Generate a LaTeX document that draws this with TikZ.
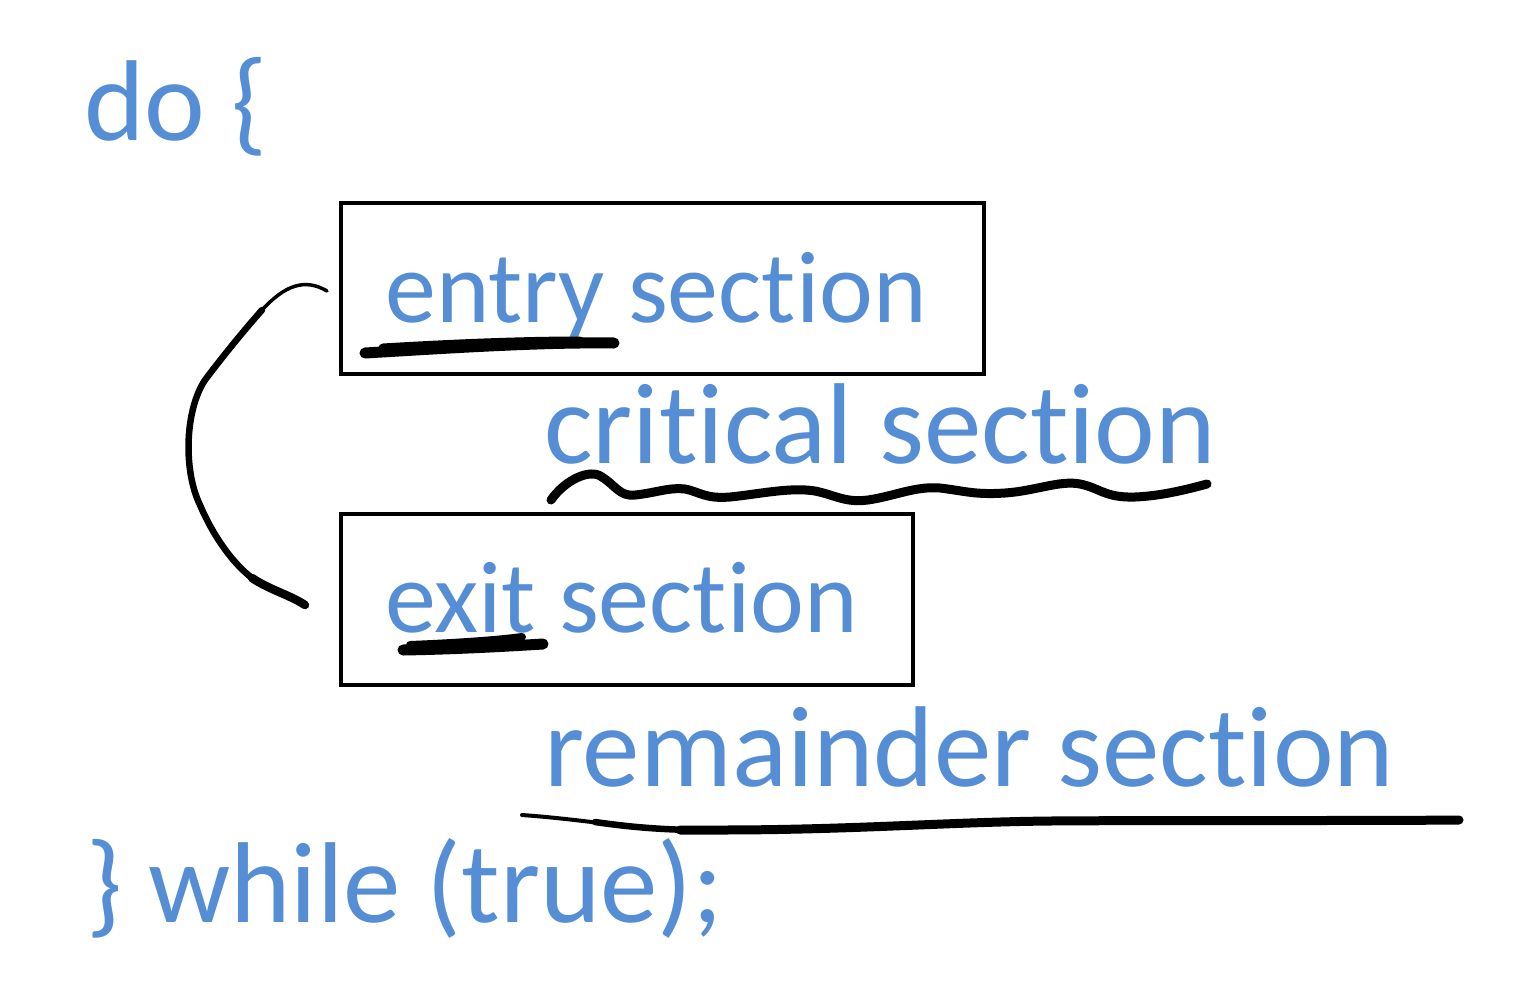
\documentclass[tikz,border=0pt]{standalone}
\usepackage{fontspec}
\setmainfont[Ligatures={NoCommon}]{Carlito}
\definecolor{codeblue}{HTML}{558ED5}
\begin{document}
\begin{tikzpicture}[x=1pt,y=-1pt,
  code/.style={anchor=base west,inner sep=0pt,text=codeblue},
  big/.style={code,font=\fontsize{115}{115}\selectfont},
  small/.style={code,font=\fontsize{102}{102}\selectfont},
  secbox/.style={draw,line width=4pt},
  ink/.style={draw,line width=9pt,line cap=round,line join=round},
  marker/.style={draw,line width=11pt,line cap=round}]
\useasboundingbox (0,0) rectangle (1532,999);

% program skeleton
\node[big] (doopen) at (84,140) {do \{};
\node[big] (whileclose) at (86,922) {\} while (true);};

% sections
\node[secbox,minimum width=643pt,minimum height=171pt,anchor=north west,inner sep=0pt] (entrybox) at (339,201) {};
\node[small] (entry) at (385,322) {entry section};
\node[big] (critical) at (544,463) {critical section};
\node[secbox,minimum width=572pt,minimum height=171pt,anchor=north west,inner sep=0pt] (exitbox) at (339,512) {};
\node[small] (exit) at (385,632) {exit section};
\node[big] (remainder) at (544,786) {remainder section};

% hand-drawn loop from exit back to entry
\coordinate (loopa) at (327,291);
\coordinate (loopb) at (305,605);
\draw[line width=3.5pt,line cap=round] (loopa) .. controls (305,278) and (285,285) .. (262,310);
\draw[ink,line width=6.5pt] (262,310) .. controls (240,335) and (220,360) .. (205,380)
  .. controls (185,410) and (183,470) .. (200,505)
  .. controls (215,540) and (235,565) .. (252,578);
\draw[ink,line width=8.5pt] (252,578) .. controls (270,590) and (290,595) .. (loopb);

% marker underlines
\draw[marker] (365,353) .. controls (450,348) and (540,342) .. (614,343);
\draw[marker,line width=9pt] (383,348) .. controls (450,344) and (520,341) .. (580,341);
\draw[marker] (403,650) .. controls (460,649) and (510,646) .. (543,644);
\draw[marker,line width=8pt] (410,645) .. controls (460,643) and (500,640) .. (522,637);

% wavy underline of the critical section
\draw[ink] (551,500) .. controls (565,480) and (590,468) .. (602,477)
  .. controls (615,485) and (620,497) .. (635,495)
  .. controls (655,493) and (670,487) .. (685,489)
  .. controls (700,492) and (705,499) .. (730,497)
  .. controls (760,494) and (790,487) .. (815,491)
  .. controls (835,495) and (845,503) .. (868,500)
  .. controls (895,496) and (915,486) .. (940,488)
  .. controls (965,491) and (975,495) .. (1005,493)
  .. controls (1035,491) and (1060,480) .. (1080,484)
  .. controls (1100,488) and (1105,498) .. (1135,497)
  .. controls (1160,496) and (1185,490) .. (1207,484);

% long underline of the remainder section, tapering at its left end
\draw[ink,line width=4pt] (522,815) .. controls (550,817) and (575,820) .. (600,823);
\draw[ink,line width=6.5pt] (595,822) .. controls (630,827) and (655,829) .. (690,830);
\draw[ink] (680,830) .. controls (700,830) and (710,830) .. (720,830)
  .. controls (850,830) and (950,822) .. (1050,821)
  .. controls (1200,820) and (1350,821) .. (1459,820);
\end{tikzpicture}
\end{document}
